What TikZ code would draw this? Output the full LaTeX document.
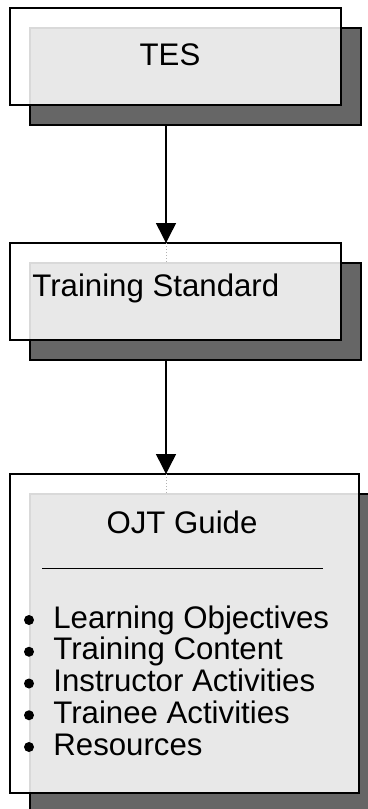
\documentclass[tikz,border=0pt]{standalone}
\usepackage{fontspec}
\setmainfont{Liberation Sans}
\usetikzlibrary{arrows.meta,positioning}

\begin{document}
\begin{tikzpicture}[x=0.5pt, y=-0.5pt]
            \tikzset{
                shadowbox/.style={draw=black, line width=0.6pt, fill=black!60,
                    inner sep=0pt, outer sep=0pt},
                box/.style={draw=black, line width=0.75pt, fill=white, fill opacity=0.85,
                    inner sep=0pt, outer sep=0pt},
                small box/.style={minimum width=165.5pt, minimum height=48.5pt},
                big box/.style={minimum width=174.5pt, minimum height=159.5pt},
                label/.style={font=\fontsize{15.6}{15.9}\selectfont, inner sep=0pt},
                dot/.style={circle, fill=black, minimum size=5pt, inner sep=0pt},
                conn/.style={line width=0.75pt, -{Triangle[width=10pt, length=10pt]}},
                faint/.style={black!30, densely dotted, line width=0.5pt}
            }
            \useasboundingbox (0,0) rectangle (368,809);
            \clip (0,0) rectangle (368,809);

            % boxes with their shadows
            \node[shadowbox, small box] (tesS) at (195.5,76.5) {};
            \node[box, small box] (tes) at (175.5,56.5) {};
            \node[shadowbox, small box] (stdS) at (195.5,311.5) {};
            \node[box, small box] (std) at (175.5,291.5) {};
            \node[shadowbox, big box] (ojtS) at (204.5,653.5) {};
            \node[box, big box] (ojt) at (184.5,633.5) {};

            % texts
            \node[label] (tesTxt) at (170,55) {TES};
            \node[label, anchor=west] (stdTxt) at (32,288) {Training Standard};
            \node[label] (ojtTxt) at (182,522) {OJT Guide};
            \draw[line width=0.5pt] (42,568) -- (323,568);
            \foreach \item [count=\i] in {Learning Objectives, Training Content,
                    Instructor Activities, Trainee Activities, Resources} {
                \node[dot] (dot\i) at (29,{620+31.75*(\i-1)}) {};
                \node[label, anchor=base west] (item\i) at (53,{628+31.75*(\i-1)}) {\item};
            }

            % connectors
            \coordinate (axis) at (166,0);
            \draw[conn] (tesS.south -| axis) -- (std.north -| axis);
            \draw[faint] (std.north -| axis) -- (stdS.north -| axis);
            \draw[conn] (stdS.south -| axis) -- (ojt.north -| axis);
            \draw[faint] (ojt.north -| axis) -- (ojtS.north -| axis);
        \end{tikzpicture}
\end{document}
